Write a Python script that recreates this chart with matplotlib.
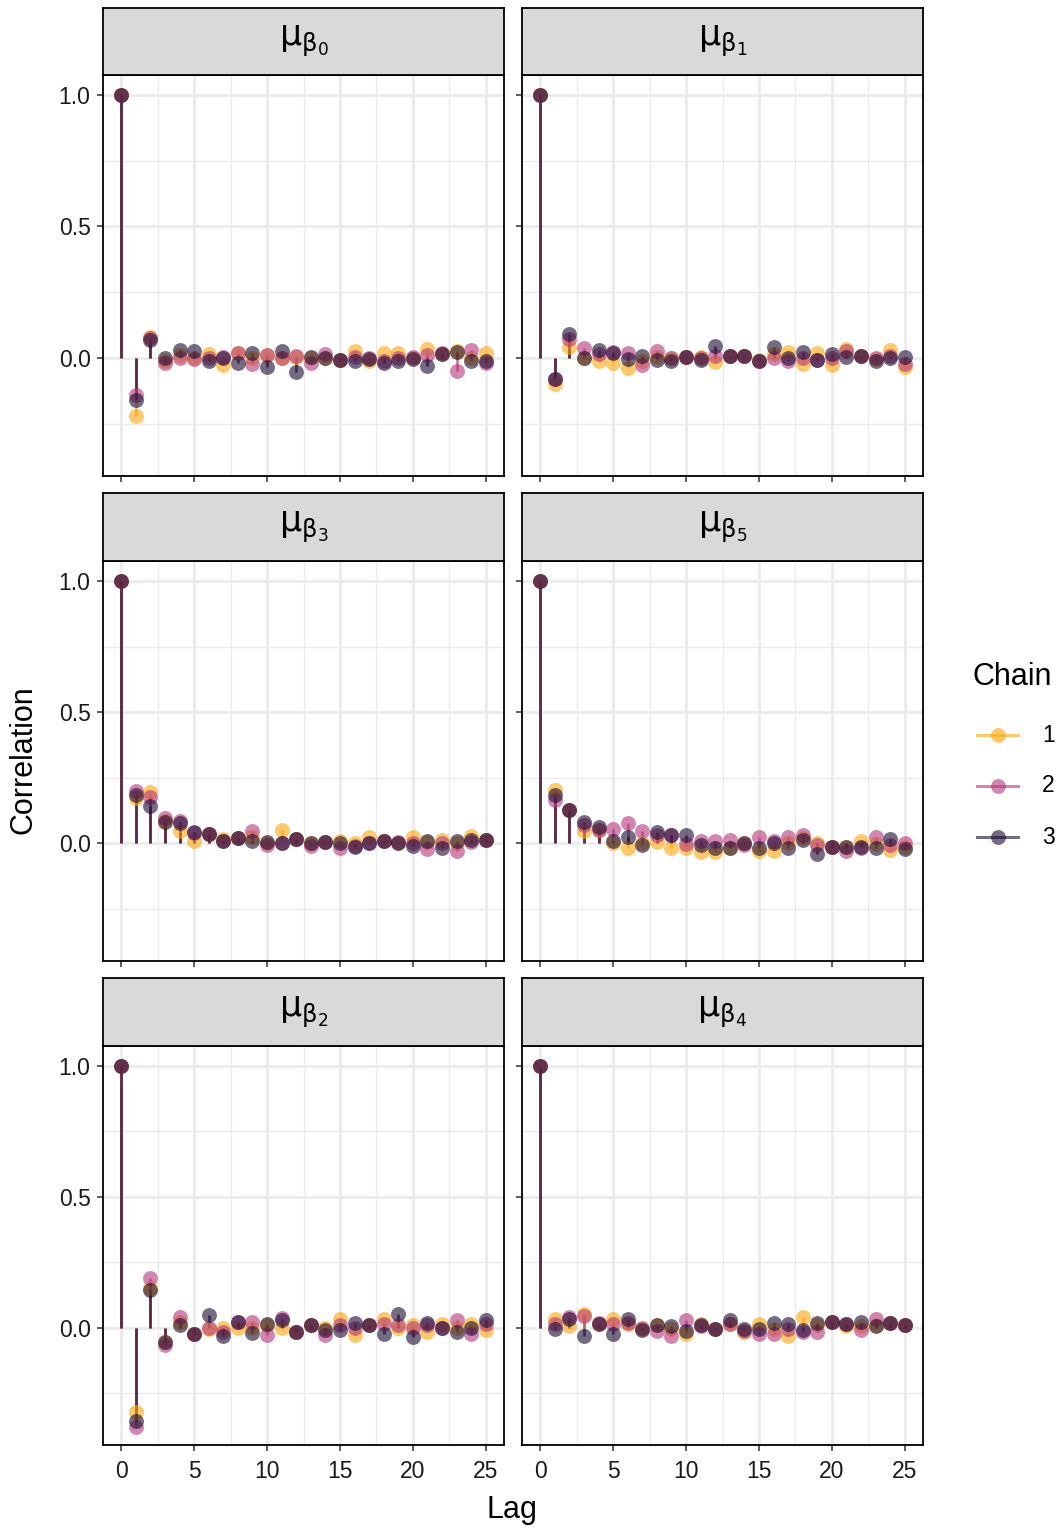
"""Autocorrelation of the mu_beta chains, one panel per parameter
"""

import matplotlib
matplotlib.use("Agg")
import matplotlib.pyplot as plt

W, H = 1063, 1528

lags = list(range(26))
chains = ["1", "2", "3"]
chain_colors = ["#FCA50A", "#B5367A", "#1A0A33"]

# ACF by chain (lag 0 .. 25)
b0_c1 = [1.0, -0.22, 0.08, -0.01, 0.01, 0.0, 0.015, -0.025, 0.02, 0.0, 0.01, 0.0, 0.005, 0.0, 0.0,
         -0.008, 0.025, -0.012, 0.018, 0.018, 0.0, 0.034, 0.015, 0.028, 0.0, 0.018]
b0_c2 = [1.0, -0.14, 0.075, -0.02, 0.0, -0.005, 0.0, 0.005, 0.018, -0.023, 0.01, 0.0, 0.008, -0.02, 0.015,
         -0.008, 0.005, 0.0, -0.01, 0.0, 0.005, 0.01, 0.02, -0.048, 0.03, -0.02]
b0_c3 = [1.0, -0.16, 0.07, 0.0, 0.03, 0.028, -0.01, 0.0, -0.018, 0.018, -0.035, 0.028, -0.055, 0.005, 0.0,
         -0.008, -0.01, -0.005, -0.018, -0.012, -0.005, -0.03, 0.015, 0.022, -0.01, -0.01]

b1_c1 = [1.0, -0.10, 0.04, 0.0, -0.01, -0.02, -0.038, -0.01, 0.002, 0.0, 0.003, 0.002, -0.015, 0.008, 0.008,
         -0.008, 0.015, 0.022, -0.022, 0.018, -0.025, 0.034, 0.008, -0.004, 0.03, -0.035]
b1_c2 = [1.0, -0.08, 0.072, 0.038, 0.015, 0.022, 0.02, -0.025, 0.028, 0.0, 0.003, 0.0, 0.008, 0.008, 0.008,
         -0.013, 0.0, -0.013, 0.0, -0.008, 0.0, 0.028, 0.008, 0.0, 0.008, -0.022]
b1_c3 = [1.0, -0.08, 0.09, 0.0, 0.03, 0.018, -0.004, 0.009, -0.008, -0.01, 0.003, -0.008, 0.047, 0.008, 0.008,
         -0.01, 0.04, 0.0, 0.022, -0.008, 0.015, 0.003, 0.008, -0.012, 0.0, 0.005]

b3_c1 = [1.0, 0.172, 0.195, 0.085, 0.048, 0.01, 0.035, 0.015, 0.02, 0.025, 0.0, 0.05, 0.016, 0.0, 0.004,
         0.008, 0.0, 0.025, 0.01, 0.0, 0.025, 0.004, 0.013, 0.0, 0.028, 0.013]
b3_c2 = [1.0, 0.20, 0.177, 0.096, 0.086, 0.04, 0.035, 0.008, 0.02, 0.048, -0.005, 0.0, 0.016, -0.01, 0.004,
         -0.018, -0.01, 0.0, 0.01, 0.004, 0.0, -0.022, 0.0, -0.03, 0.004, 0.013]
b3_c3 = [1.0, 0.185, 0.143, 0.08, 0.076, 0.042, 0.035, 0.01, 0.02, 0.01, 0.004, 0.0, 0.016, 0.0, 0.004,
         0.0, -0.015, 0.0, 0.01, 0.0, -0.01, 0.01, -0.018, 0.008, 0.013, 0.013]

b5_c1 = [1.0, 0.203, 0.127, 0.045, 0.05, 0.0, -0.018, 0.0, 0.004, -0.018, -0.02, -0.035, -0.035, -0.018, 0.0,
         -0.03, -0.03, 0.0, 0.02, 0.0, -0.015, -0.013, 0.01, -0.004, -0.025, -0.015]
b5_c2 = [1.0, 0.165, 0.127, 0.07, 0.05, 0.054, 0.076, 0.045, 0.03, 0.03, -0.002, 0.01, 0.01, 0.013, -0.008,
         0.023, 0.01, 0.023, 0.033, -0.008, -0.015, -0.03, -0.018, 0.025, -0.008, 0.0]
b5_c3 = [1.0, 0.185, 0.127, 0.08, 0.061, 0.01, 0.025, -0.005, 0.042, 0.03, 0.03, -0.008, -0.018, -0.02, 0.0,
         -0.018, 0.0, -0.018, 0.013, -0.04, -0.015, -0.013, -0.013, -0.018, 0.016, -0.022]

b2_c1 = [1.0, -0.322, 0.15, -0.056, 0.02, -0.025, -0.005, 0.0, 0.0, 0.0, 0.008, 0.0, -0.018, 0.01, 0.0,
         0.033, -0.028, 0.01, 0.033, 0.0, 0.008, -0.018, 0.014, 0.0, 0.014, -0.011]
b2_c2 = [1.0, -0.379, 0.188, -0.068, 0.04, -0.025, 0.0, -0.018, 0.023, 0.023, -0.03, 0.035, -0.018, 0.01, -0.028,
         0.008, 0.0, 0.01, 0.014, 0.01, 0.0, 0.008, 0.0, 0.027, -0.024, 0.014]
b2_c3 = [1.0, -0.357, 0.144, -0.056, 0.01, -0.025, 0.046, -0.033, 0.023, -0.02, 0.014, 0.027, -0.018, 0.01, -0.01,
         -0.008, 0.018, 0.01, -0.024, 0.052, -0.037, 0.018, 0.0, -0.018, 0.0, 0.027]

b4_c1 = [1.0, 0.032, 0.006, 0.05, 0.013, 0.032, 0.013, -0.006, 0.009, -0.004, -0.025, 0.013, -0.004, 0.013, -0.019,
         0.013, -0.004, -0.032, 0.042, 0.009, 0.022, 0.004, 0.004, 0.009, 0.016, 0.009]
b4_c2 = [1.0, 0.013, 0.042, 0.044, 0.019, 0.013, 0.019, 0.0, -0.013, -0.032, 0.029, 0.004, -0.004, 0.013, -0.013,
         -0.025, -0.025, -0.004, -0.019, -0.019, 0.022, 0.013, -0.009, 0.034, 0.016, 0.009]
b4_c3 = [1.0, -0.004, 0.034, -0.032, 0.013, -0.025, 0.032, -0.009, 0.009, 0.004, -0.013, 0.009, -0.004, 0.029, -0.004,
         -0.004, 0.019, 0.013, -0.009, 0.019, 0.022, 0.013, 0.022, 0.004, 0.016, 0.009]

panel_titles = [r"$\mathrm{μ}_{\mathrm{β}_{0}}$", r"$\mathrm{μ}_{\mathrm{β}_{1}}$",
                r"$\mathrm{μ}_{\mathrm{β}_{3}}$", r"$\mathrm{μ}_{\mathrm{β}_{5}}$",
                r"$\mathrm{μ}_{\mathrm{β}_{2}}$", r"$\mathrm{μ}_{\mathrm{β}_{4}}$"]
panel_series = [(b0_c1, b0_c2, b0_c3), (b1_c1, b1_c2, b1_c3), (b3_c1, b3_c2, b3_c3),
                (b5_c1, b5_c2, b5_c3), (b2_c1, b2_c2, b2_c3), (b4_c1, b4_c2, b4_c3)]

y_ticks = [0.0, 0.5, 1.0]
y_minor = [-0.25, 0.25, 0.75]
x_ticks = [0, 5, 10, 15, 20, 25]
x_minor = [2.5, 7.5, 12.5, 17.5, 22.5]

plt.rcParams["font.family"] = ["Liberation Sans", "DejaVu Sans"]
plt.rcParams["mathtext.fontset"] = "dejavusans"

fig = plt.figure(figsize=(W / 100, H / 100), dpi=100)


def box(x0, y0, x1, y1):
    return [x0 / W, 1 - y1 / H, (x1 - x0) / W, (y1 - y0) / H]


col_x = [(103, 504), (522, 923)]
row_y = [(8, 75, 476), (493, 561, 961), (978, 1046, 1445)]

for i, (title, series) in enumerate(zip(panel_titles, panel_series)):
    r, c = divmod(i, 2)
    x0, x1 = col_x[c]
    s0, p0, p1 = row_y[r]

    ax = fig.add_axes(box(x0, p0, x1, p1))
    ax.set_xlim(-1.25, 26.25)
    ax.set_ylim(-0.449, 1.076)
    ax.set_xticks(x_ticks)
    ax.set_xticks(x_minor, minor=True)
    ax.set_yticks(y_ticks)
    ax.set_yticks(y_minor, minor=True)
    ax.grid(which="major", color="#EBEBEB", lw=2.0, zorder=0)
    ax.grid(which="minor", color="#EBEBEB", lw=1.0, zorder=0)
    ax.set_axisbelow(True)
    ax.tick_params(which="minor", length=0)
    ax.tick_params(which="major", length=4, width=1.1, color="#333333",
                   labelsize=16.5, labelcolor="#1a1a1a")
    ax.tick_params(axis="y", pad=5)
    ax.tick_params(axis="x", pad=7)
    ax.set_yticklabels(["0.0", "0.5", "1.0"])
    if r < 2:
        ax.tick_params(axis="x", labelbottom=False)
    if c == 1:
        ax.tick_params(axis="y", labelleft=False)
    for sp in ax.spines.values():
        sp.set_linewidth(1.3)
        sp.set_color("black")

    for vals, col in zip(series, chain_colors):
        ax.vlines(lags, 0, vals, color=col, alpha=0.65, lw=2.0, zorder=2)
    for vals, col in zip(series, chain_colors):
        ax.scatter(lags, vals, s=115, color=col, alpha=0.6, lw=0, zorder=3)

    # facet strip
    st = fig.add_axes(box(x0, s0, x1, p0))
    st.set_facecolor("#D9D9D9")
    st.set_xticks([])
    st.set_yticks([])
    for sp in st.spines.values():
        sp.set_linewidth(1.3)
        sp.set_color("black")
    st.text(0.5, 0.5, title, ha="center", va="center", fontsize=25, transform=st.transAxes)

fig.text(512 / W, 1 - 1510 / H, "Lag", ha="center", va="center", fontsize=22)
fig.text(24 / W, 1 - 760 / H, "Correlation", ha="center", va="center", rotation=90, fontsize=22)

# legend drawn in pixel space
lg = fig.add_axes(box(960, 650, 1063, 870))
lg.set_xlim(960, 1063)
lg.set_ylim(870, 650)
lg.axis("off")
lg.text(973, 677, "Chain", ha="left", va="center", fontsize=22)
for k, (lab, col) in enumerate(zip(chains, chain_colors)):
    yk = 735 + 51 * k
    lg.plot([977, 1018], [yk, yk], color=col, alpha=0.6, lw=2.2)
    lg.scatter([998], [yk], s=115, color=col, alpha=0.6, lw=0)
    lg.text(1042, yk, lab, ha="left", va="center", fontsize=16.5)

fig.savefig("out.png", dpi=100)
